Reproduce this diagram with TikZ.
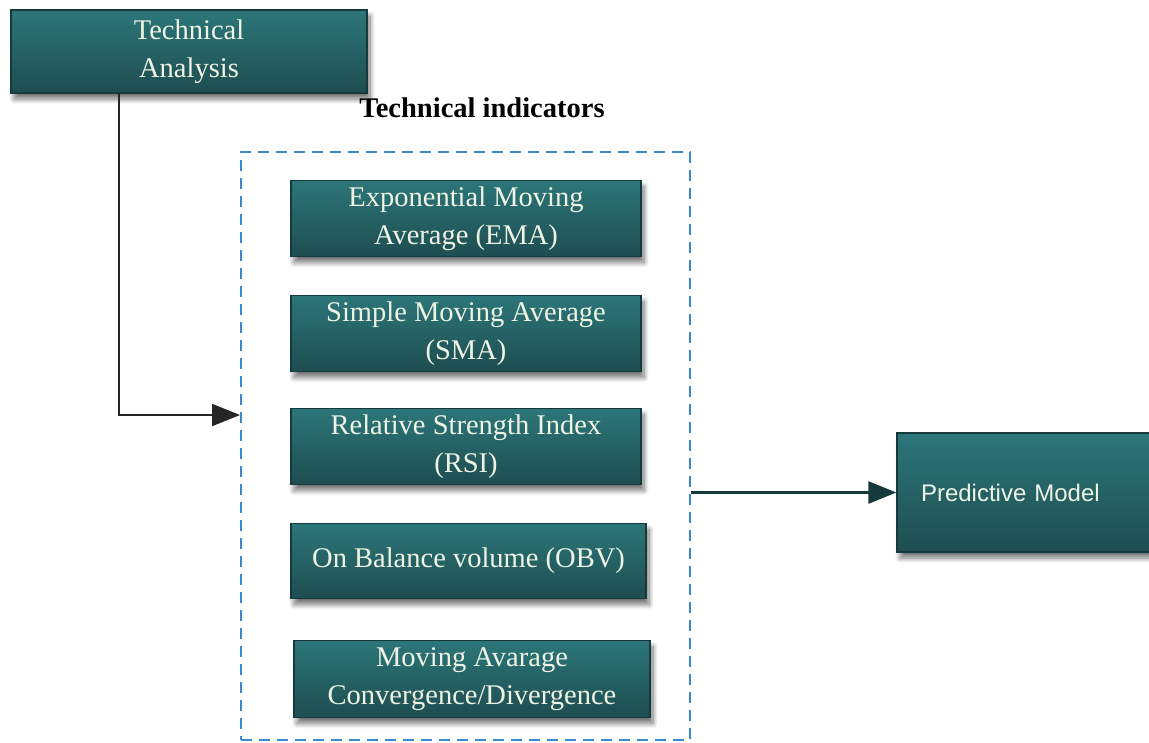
\documentclass[tikz,border=0pt]{standalone}
\usepackage{fontspec}
\setmainfont{Liberation Serif}
\newfontfamily\pmfont{Liberation Sans}
\usetikzlibrary{arrows.meta,shadows.blur}
\definecolor{tealtop}{HTML}{2C7679}
\definecolor{tealbot}{HTML}{1E4D50}
\definecolor{tealedge}{HTML}{163A3C}
\definecolor{boxtext}{HTML}{EEF3E4}
\definecolor{dashblue}{HTML}{3A8BCD}
\tikzset{
	tealbox/.style={draw=tealedge,line width=1.2pt,top color=tealtop,bottom color=tealbot,
		text=boxtext,align=center,inner sep=0pt,
		font=\fontsize{28.5}{38}\selectfont,
		blur shadow={shadow xshift=3pt,shadow yshift=-6pt,shadow blur radius=5pt,shadow blur steps=10,shadow opacity=55}},
	dashbox/.style={draw=dashblue,line width=1.8pt,dash pattern=on 11pt off 7pt},
	arrowline/.style={-{Triangle[length=28pt,width=22pt]}}
}
\begin{document}
\begin{tikzpicture}[x=1pt,y=-1pt]
	\useasboundingbox (0,0) rectangle (1149,742);
	\node [tealbox,minimum width=356pt,minimum height=83pt] (ta) at (189,51.5) {Technical\\Analysis};
	\node [font=\fontsize{28.5}{34}\selectfont\bfseries] (title) at (482,108) {Technical indicators};
	\node [dashbox,minimum width=449pt,minimum height=588pt,inner sep=0pt] (ind) at (465.5,446) {};
	\node [tealbox,minimum width=350pt,minimum height=76pt] (ema) at (466,218.5) {Exponential Moving\\Average (EMA)};
	\node [tealbox,minimum width=350pt,minimum height=76pt] (sma) at (466,333.5) {Simple Moving Average\\(SMA)};
	\node [tealbox,minimum width=350pt,minimum height=76pt] (rsi) at (466,446.5) {Relative Strength Index\\(RSI)};
	\node [tealbox,minimum width=355pt,minimum height=75pt] (obv) at (468.5,561) {On Balance volume (OBV)};
	\node [tealbox,minimum width=356pt,minimum height=77pt] (macd) at (472,679) {Moving Avarage\\Convergence/Divergence};
	\node [tealbox,minimum width=254pt,minimum height=119pt,text width=206pt,inner xsep=24pt,align=left,
		font=\pmfont\fontsize{24}{28}\selectfont] (pm) at (1024,492.5) {Predictive Model};
	% connectors
	\draw [arrowline,line width=1.6pt,draw=black!85] ([xshift=-70pt]ta.south) |- ([yshift=31pt]ind.west);
	\draw [arrowline,line width=2.4pt,draw=tealedge] (ind.east |- pm.west) -- (pm.west);
\end{tikzpicture}
\end{document}
